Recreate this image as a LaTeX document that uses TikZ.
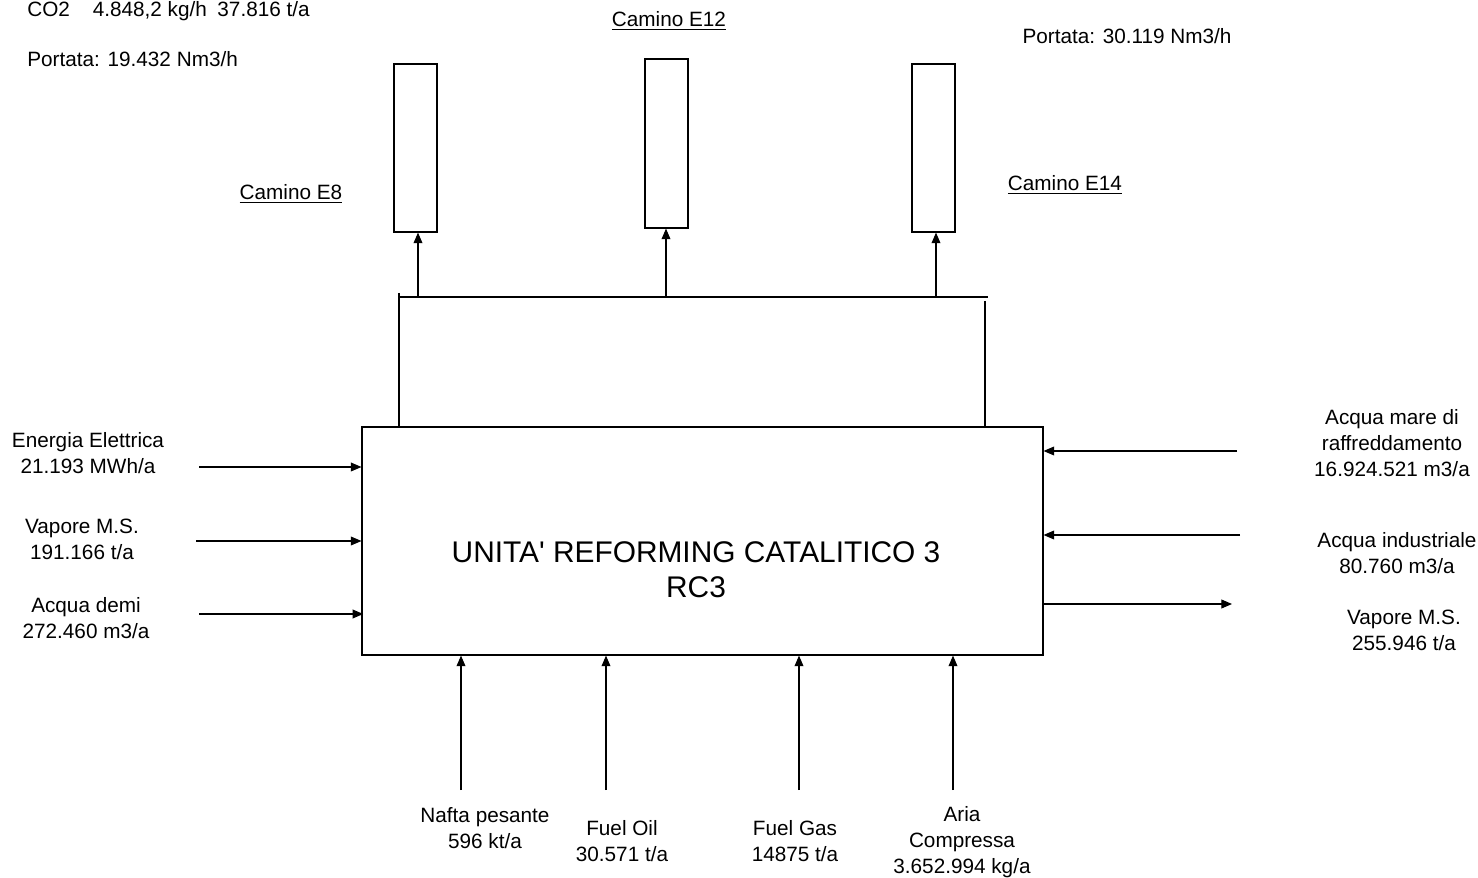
\documentclass[tikz,border=0pt]{standalone}
\usepackage{fontspec}
\setmainfont{Liberation Sans}[Ligatures=TeXOff]
\usetikzlibrary{arrows.meta,positioning}

\begin{document}
\begin{tikzpicture}[x=0.02cm,y=-0.02cm,
  unit/.style={draw,line width=0.7pt,inner sep=0pt,minimum width=13.62cm,minimum height=4.56cm},
  stack/.style={draw,line width=0.7pt,inner sep=0pt,minimum width=0.86cm,minimum height=3.36cm},
  lbl/.style={align=center,inner sep=0pt,font=\fontsize{11.8}{14.7}\selectfont},
  arr/.style={-{Triangle[length=6pt,width=5pt]},line width=0.6pt}]
  \useasboundingbox (0,0) rectangle (1478,878);
  % unit and stacks
  \node[unit] (rc3) at (702.5,541) {};
  \node[align=center,inner sep=0pt,font=\fontsize{17}{19.8}\selectfont] (title) at (696,570) {UNITA' REFORMING CATALITICO 3\\RC3};
  \node[stack] (e8) at (415.5,148) {};
  \node[stack,minimum height=3.38cm] (e12) at (666.5,143.5) {};
  \node[stack] (e14) at (933.5,148) {};
  \node[lbl] (le8) at (291,194) {\underline{Camino E8}};
  \node[lbl] (le12) at (669,21) {\underline{Camino E12}};
  \node[lbl] (le14) at (1065,185) {\underline{Camino E14}};
  \node[lbl,anchor=west] (co2) at (27,11) {CO2\hspace{13pt}4.848,2 kg/h\hspace{6pt}37.816 t/a};
  \node[lbl,anchor=west] (q8) at (27,59) {Portata: 19.432 Nm3/h};
  \node[lbl] (q14) at (1127,36) {Portata: 30.119 Nm3/h};
  % collector
  \coordinate (colL) at (399,293);
  \coordinate (colR) at (985,301);
  \draw[line width=0.9pt] (399,297) coordinate (h1) -- (988,297) coordinate (h2);
  \draw[line width=0.7pt] (colL) -- (colL |- rc3.north);
  \draw[line width=0.7pt] (colR) -- (colR |- rc3.north);
  \coordinate (c8) at (418,297);
  \coordinate (c12) at (666,297);
  \coordinate (c14) at (936,297);
  \draw[arr] (c8) -- (c8 |- e8.south);
  \draw[arr] (c12) -- (c12 |- e12.south);
  \draw[arr] (c14) -- (c14 |- e14.south);
  % left inputs
  \node[lbl] (ee) at (88,453) {Energia Elettrica\\21.193 MWh/a};
  \node[lbl] (vap) at (82,539) {Vapore M.S.\\191.166 t/a};
  \node[lbl] (demi) at (86,618) {Acqua demi\\272.460 m3/a};
  \coordinate (aee) at (199,467);
  \coordinate (avap) at (196,541);
  \coordinate (ademi) at (199,614);
  \draw[arr] (aee) -- (aee -| rc3.west);
  \draw[arr] (avap) -- (avap -| rc3.west);
  \draw[arr] (ademi) -- ([xshift=1pt]ademi -| rc3.west);
  % right side
  \node[lbl] (mare) at (1392,443) {Acqua mare di\\raffreddamento\\16.924.521 m3/a};
  \node[lbl] (ind) at (1397,553) {Acqua industriale\\80.760 m3/a};
  \node[lbl] (vout) at (1404,630) {Vapore M.S.\\255.946 t/a};
  \coordinate (amare) at (1237,451);
  \coordinate (aind) at (1240,535);
  \coordinate (avout) at (1232,604);
  \draw[arr] (amare) -- (amare -| rc3.east);
  \draw[arr] (aind) -- (aind -| rc3.east);
  \draw[arr] (avout -| rc3.east) -- (avout);
  % bottom inputs
  \node[lbl] (nafta) at (485,828) {Nafta pesante\\596 kt/a};
  \node[lbl] (oil) at (622,841) {Fuel Oil\\30.571 t/a};
  \node[lbl] (gas) at (795,841) {Fuel Gas\\14875 t/a};
  \node[lbl] (aria) at (962,842) {Aria\\Compressa\\3.652.994 kg/a};
  \coordinate (anafta) at (461,790);
  \coordinate (aoil) at (606,790);
  \coordinate (agas) at (799,790);
  \coordinate (aaria) at (953,790);
  \draw[arr] (anafta) -- (anafta |- rc3.south);
  \draw[arr] (aoil) -- (aoil |- rc3.south);
  \draw[arr] (agas) -- (agas |- rc3.south);
  \draw[arr] (aaria) -- (aaria |- rc3.south);
\end{tikzpicture}
\end{document}
